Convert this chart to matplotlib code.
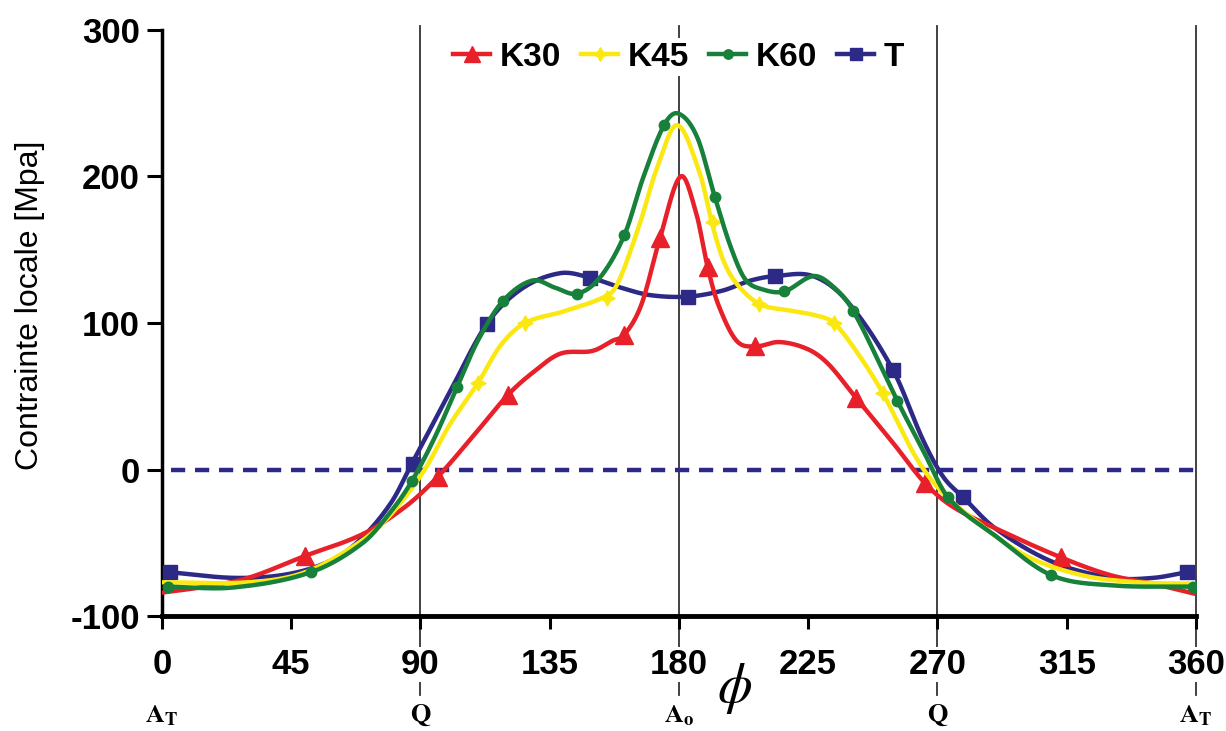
import numpy as np
import matplotlib
matplotlib.use("Agg")
import matplotlib.pyplot as plt

plt.rcParams['font.family'] = ['Liberation Sans', 'DejaVu Sans']
plt.rcParams['mathtext.fontset'] = 'stix'
plt.rcParams['axes.unicode_minus'] = False

# curve samples (phi in degrees, local stress in MPa)
k30_x = [0, 15, 30, 49.8, 70, 85, 96, 108, 120.5, 129, 138.6, 150, 157, 161, 167, 173.4, 180.6,
         186, 190, 193.6, 200, 206.5, 215, 225, 232, 241.6, 255, 265.5, 275, 290, 313, 330, 345, 360]
k30_y = [-84, -80, -74, -59, -44, -25, -5, 22, 51, 66, 79, 81, 88, 92, 113, 158, 200,
         175, 138, 113, 88, 84, 87, 82, 72, 49, 17, -9, -25, -40, -60, -72, -78, -85]

k45_x = [0, 30, 50, 70, 80, 91.5, 100, 110, 118, 126.4, 140, 156, 159.6, 166.4, 172.4, 179.4,
         187.3, 191.5, 195.4, 200, 208, 218.7, 228, 234, 242, 251, 262, 270, 280, 300, 320, 340, 360]
k45_y = [-77, -77, -70, -48, -30, 0, 30, 59, 85, 100, 108, 120, 131, 168, 206, 235,
         202, 168, 143, 127, 113, 108.5, 105, 100, 80, 52, 10, -12, -30, -58, -72, -77, -78]

k60_x = [2, 25, 52, 70, 80, 87, 95, 102.7, 110, 118.7, 129, 137, 144.5, 152.5, 161, 167.5,
         174.8, 179.7, 186.3, 192.5, 198, 203, 209, 216.6, 226.7, 233, 240.6, 256, 265,
         273.7, 290, 309.5, 330, 359]
k60_y = [-80, -80.5, -70, -50, -28, -8, 22, 56, 88, 115, 129, 124, 120, 131, 160, 199,
         235, 243, 227, 186, 152, 130, 123, 121.5, 132, 126, 108.5, 47, 13,
         -19, -45, -72, -79, -80]

t_x = [2, 26, 45, 60, 70, 80, 87, 100, 113, 125, 138.6, 149, 160, 170, 183, 195, 205,
       213.4, 226.7, 238.5, 254.5, 265, 272, 279, 290, 310, 331, 345, 357]
t_y = [-70, -74, -71, -61, -46, -22, 4, 52, 99, 123, 134, 131, 124, 119, 118, 122, 129,
       132, 132, 115, 68, 20, -5, -19, -40, -63, -74, -74, -70]

# marker positions
k30_mx = [49.8, 96, 120.5, 161, 173.4, 190, 206.5, 241.6, 265.5, 313]
k30_my = [-59, -5, 51, 92, 158, 138, 84, 49, -9, -60]
k45_mx = [110, 126.4, 155, 192, 208, 234, 251]
k45_my = [59, 100, 117, 169, 113, 100, 52]
k60_mx = [2, 52, 87, 102.7, 118.7, 144.5, 161, 174.8, 192.5, 216.6, 240.6, 256, 273.7, 309.5, 359]
k60_my = [-80, -70, -8, 56, 115, 120, 160, 235, 186, 121.5, 108.5, 47, -19, -72, -80]
t_mx = [2.8, 87.4, 113, 149, 183, 213.4, 254.5, 279, 357]
t_my = [-70, 4, 99, 131, 118, 132, 68, -19, -70]

xticks = [0, 45, 90, 135, 180, 225, 270, 315, 360]
yticks = [-100, 0, 100, 200, 300]
point_pos = [0, 90, 180, 270, 360]
point_names = [r'$\mathbf{A_T}$', r'$\mathbf{Q}$', r'$\mathbf{A_o}$', r'$\mathbf{Q}$', r'$\mathbf{A_T}$']


def smooth(x, y, n=25):
    # cubic hermite through the samples, tangents from neighbours
    x = np.asarray(x, float)
    y = np.asarray(y, float)
    m = np.zeros_like(y)
    m[1:-1] = (y[2:] - y[:-2]) / (x[2:] - x[:-2])
    m[0] = (y[1] - y[0]) / (x[1] - x[0])
    m[-1] = (y[-1] - y[-2]) / (x[-1] - x[-2])
    xs, ys = [], []
    for i in range(len(x) - 1):
        h = x[i + 1] - x[i]
        t = np.linspace(0, 1, n, endpoint=False)
        h00 = 2 * t**3 - 3 * t**2 + 1
        h10 = t**3 - 2 * t**2 + t
        h01 = -2 * t**3 + 3 * t**2
        h11 = t**3 - t**2
        xs.extend(x[i] + t * h)
        ys.extend(h00 * y[i] + h10 * h * m[i] + h01 * y[i + 1] + h11 * h * m[i + 1])
    xs.append(x[-1])
    ys.append(y[-1])
    return np.array(xs), np.array(ys)


red = '#e8202a'
yellow = '#fbe811'
green = '#17803a'
navy = '#2c2a86'

fig = plt.figure(figsize=(12.26, 7.31), dpi=100)
ax = fig.add_axes([0.1321, 0.1573, 0.8434, 0.8017])
ax.set_xlim(0, 360)
ax.set_ylim(-100, 300)

# reference lines at the particular points
for xp in [90, 180, 270, 360]:
    ax.plot([xp, xp], [303, -154], color='#333333', lw=1.3, clip_on=False, zorder=1)

ax.plot([3, 360], [0, 0], color=navy, lw=3.2, dashes=(3.2, 2.2), zorder=2)

series = [
    (t_x, t_y, t_mx, t_my, navy, 's', 10, 'T'),
    (k30_x, k30_y, k30_mx, k30_my, red, '^', 13, 'K30'),
    (k45_x, k45_y, k45_mx, k45_my, yellow, (4, 1, 0), 11, 'K45'),
    (k60_x, k60_y, k60_mx, k60_my, green, 'o', 7.5, 'K60'),
]
handles = {}
for i, (cx, cy, mx, my, c, mk, ms, lab) in enumerate(series):
    sx, sy = smooth(cx, cy)
    ax.plot(sx, sy, color=c, lw=3.2, zorder=3 + i)
    ax.plot(mx, my, ls='none', marker=mk, ms=ms, color=c, zorder=3 + i)
    h, = ax.plot([], [], color=c, lw=3.2, marker=mk, ms=ms * 0.9, label=lab)
    handles[lab] = h

leg = ax.legend([handles[k] for k in ['K30', 'K45', 'K60', 'T']], ['K30', 'K45', 'K60', 'T'],
                loc='upper center', bbox_to_anchor=(0.5, 1.0), ncol=4, frameon=True,
                prop={'weight': 'bold', 'size': 24}, handlelength=1.1, handletextpad=0.3,
                columnspacing=0.6, borderpad=0.1, borderaxespad=0.25)
leg.get_frame().set_edgecolor('none')
leg.get_frame().set_facecolor('white')
leg.get_frame().set_alpha(1)
leg.set_zorder(10)

for s in ['top', 'right']:
    ax.spines[s].set_visible(False)
ax.spines['left'].set_linewidth(2.5)
ax.spines['bottom'].set_linewidth(3.5)

ax.set_xticks(xticks)
ax.set_yticks(yticks)
ax.tick_params(axis='y', direction='out', length=11, width=2.2, pad=5, labelsize=25)
ax.tick_params(axis='x', direction='out', length=9, width=2.2, pad=14, labelsize=25)
for lbl in ax.get_xticklabels() + ax.get_yticklabels():
    lbl.set_fontweight('bold')
for lbl in ax.get_xticklabels():
    lbl.set_bbox(dict(facecolor='white', edgecolor='none', pad=1))

ax.set_ylabel('Contrainte locale [Mpa]', fontsize=23)
ax.yaxis.set_label_coords(-0.113, 0.53)

trans = ax.get_xaxis_transform()
for xp, name in zip(point_pos, point_names):
    ax.text(xp, -0.17, name, transform=trans, ha='center', va='center', fontsize=19,
            clip_on=False)
ax.text(199.5, -0.123, r'$\phi$', transform=trans, ha='center', va='center',
        fontsize=40, clip_on=False)

fig.savefig('out.png', dpi=100)
